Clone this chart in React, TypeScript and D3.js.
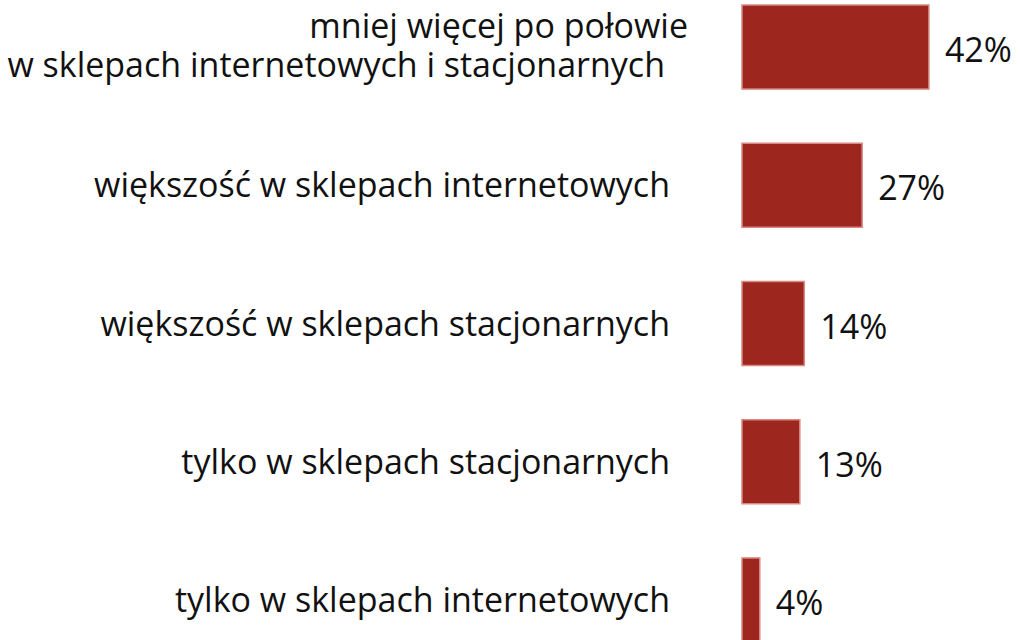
import React from 'react';
import * as d3 from 'd3';

const categories = [
  'mniej więcej po połowie|w sklepach internetowych i stacjonarnych',
  'większość w sklepach internetowych',
  'większość w sklepach stacjonarnych',
  'tylko w sklepach stacjonarnych',
  'tylko w sklepach internetowych',
];
const values = [42, 27, 14, 13, 4];

const width = 1020;
const height = 640;
const font = "'Open Sans', 'Noto Sans', sans-serif";
const fontSize = 34;

const App = () => {
  const yScale = d3.scaleBand<string>()
    .domain(categories)
    .range([5, 642])
    .paddingInner(0.392)
    .paddingOuter(0);

  const xScale = d3.scaleLinear()
    .domain([0, 100])
    .range([742, 742 + 445]);

  return (
    <div style={{ position: 'absolute', left: 0, top: 0 }}>
      <svg width={width} height={height} style={{ display: 'block', background: '#fff' }}>
        {categories.map((c, i) => {
          const y = yScale(c)!;
          const cy = y + yScale.bandwidth() / 2;
          const lines = c.split('|');
          return (
            <g key={c}>
              <rect
                x={xScale(0)}
                y={y}
                width={xScale(values[i]) - xScale(0)}
                height={yScale.bandwidth()}
                fill="#9d261f"
                stroke="#d98a84"
                strokeWidth={1.5}
              />
              <text
                x={xScale(values[i]) + 16}
                y={cy + 15}
                fontFamily={font}
                fontSize={fontSize}
                fill="#111"
              >
                {values[i]}%
              </text>
              {lines.length === 1 ? (
                <text x={670} y={cy + 12} textAnchor="end" fontFamily={font} fontSize={fontSize} fill="#111">
                  {lines[0]}
                </text>
              ) : (
                <>
                  <text x={688} y={cy - 9} textAnchor="end" fontFamily={font} fontSize={fontSize} fill="#111">
                    {lines[0]}
                  </text>
                  <text x={665} y={cy + 30} textAnchor="end" fontFamily={font} fontSize={fontSize} fill="#111">
                    {lines[1]}
                  </text>
                </>
              )}
            </g>
          );
        })}
      </svg>
    </div>
  );
};

export default App;
